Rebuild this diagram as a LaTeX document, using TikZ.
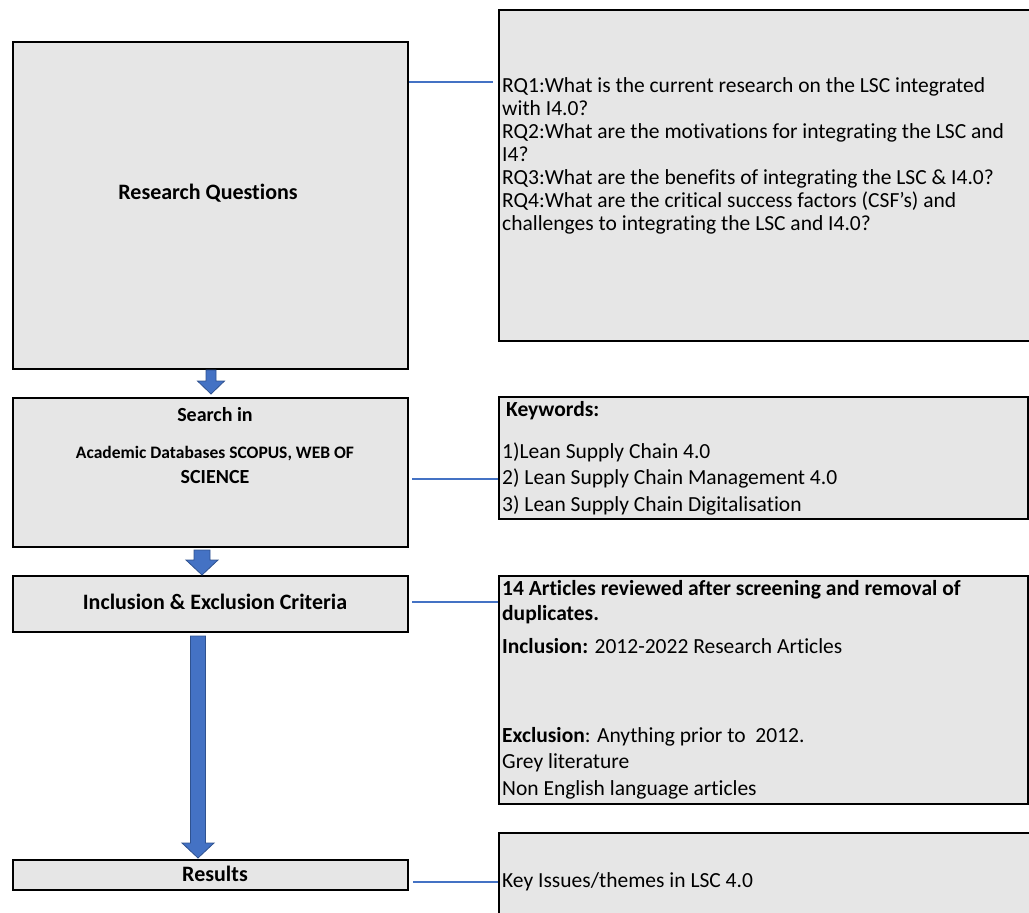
\documentclass[tikz,border=0pt]{standalone}
\usepackage{fontspec}
\setmainfont{Carlito}[Ligatures=NoCommon]
\usepackage{tikz}
\usetikzlibrary{calc,positioning}
\definecolor{boxgray}{RGB}{230,230,230}
\definecolor{linkblue}{RGB}{68,114,196}
\definecolor{edgeblue}{RGB}{47,82,143}
\tikzset{
    stage/.style={rectangle, anchor=north west, inner sep=0pt,
        minimum width=395pt, draw=black, line width=2pt, fill=boxgray},
    note/.style={rectangle, anchor=north west, inner sep=0pt,
        draw=black, line width=1.6pt, fill=boxgray},
    title/.style={inner sep=0pt, text height=0.7em, text depth=0.2em, yshift=-3pt,
        font=\fontsize{22}{26}\selectfont\bfseries},
    item/.style={anchor=west, inner sep=0pt, text height=0.7em, text depth=0.2em,
        yshift=-3pt, font=\fontsize{21.5}{26}\selectfont},
    link/.style={draw=linkblue, line width=2pt},
    flow/.style={fill=linkblue, draw=edgeblue, line width=0.8pt, line join=miter}
}
% block arrow: from, to, x shift, top gap, tip gap, shaft half, head half, head length
\newcommand{\flowarrow}[8]{%
    \filldraw[flow] ($(#1.south)+(#3-#6,#4)$) -- ($(#1.south)+(#3+#6,#4)$)
        -- ($(#2.north)+(#3+#6,-#5-#8)$) -- ($(#2.north)+(#3+#7,-#5-#8)$)
        -- ($(#2.north)+(#3,-#5)$)
        -- ($(#2.north)+(#3-#7,-#5-#8)$) -- ($(#2.north)+(#3-#6,-#5-#8)$) -- cycle;}

\begin{document}
\begin{tikzpicture}[x=1pt, y=-1pt]
    \useasboundingbox (0,0) rectangle (1029,913);
    \clip (0,0) rectangle (1029,913);
    % left column
    \node[stage, minimum height=327pt] (rq) at (12,41) {};
    \node[stage, minimum height=149pt] (search) at (12,397) {};
    \node[stage, minimum height=56pt] (incl) at (12,575) {};
    \node[stage, minimum height=30pt] (res) at (12,859) {};
    \node[title] (rqtitle) at (208,194) {Research Questions};
    \node[title, font=\fontsize{20}{24}\selectfont\bfseries] (searchtitle) at (215,416) {Search in};
    \node[title, font=\fontsize{17.5}{21}\selectfont\bfseries] (dbtitle) at (215,453) {Academic Databases SCOPUS, WEB OF};
    \node[title, font=\fontsize{20}{24}\selectfont\bfseries] (sciencetitle) at (215,478) {SCIENCE};
    \node[title] (incltitle) at (215,604) {Inclusion \& Exclusion Criteria};
    \node[title] (restitle) at (215,876) {Results};

    % right column
    \node[note, minimum width=560pt, minimum height=331pt] (rqnote) at (498,9) {};
    \node[note, minimum width=529pt, minimum height=122pt] (kwnote) at (498,396) {};
    \node[note, minimum width=529pt, minimum height=228pt] (artnote) at (498,575) {};
    \node[note, minimum width=560pt, minimum height=120pt] (resnote) at (498,832) {};

    \foreach \y/\t [count=\i] in {
        87/{RQ1:What is the current research on the LSC integrated},
        110/{with I4.0?},
        133/{RQ2:What are the motivations for integrating the LSC and},
        156/{I4?},
        179/{RQ3:What are the benefits of integrating the LSC \& I4.0?},
        202/{RQ4:What are the critical success factors (CSF’s) and},
        225/{challenges to integrating the LSC and I4.0?}}
        \node[item] (rq\i) at (502,\y) {\t};

    \node[item] (kw0) at (506,411) {\textbf{Keywords:}};
    \foreach \y/\t [count=\i] in {
        453/{1)Lean Supply Chain 4.0},
        479/{2) Lean Supply Chain Management 4.0},
        506/{3) Lean Supply Chain Digitalisation}}
        \node[item] (kw\i) at (502,\y) {\t};

    \foreach \y/\t [count=\i] in {
        590/{\textbf{14 Articles reviewed after screening and removal of}},
        615/{\textbf{duplicates.}},
        648/{\textbf{Inclusion:} 2012-2022 Research Articles},
        737/{\textbf{Exclusion}: Anything prior to~ 2012.},
        763/{Grey literature},
        790/{Non English language articles}}
        \node[item] (art\i) at (502,\y) {\t};

    \node[item] (key1) at (502,882) {Key Issues/themes in LSC 4.0};

    % links
    \coordinate (rqlink) at (0,82);
    \coordinate (searchlink) at (0,479);
    \coordinate (incllink) at (0,602);
    \coordinate (reslink) at (0,882);
    \draw[link, shorten >=5pt] (rq.east |- rqlink) -- (rqnote.west |- rqlink);
    \draw[link, shorten <=3pt] (search.east |- searchlink) -- (kwnote.west |- searchlink);
    \draw[link, shorten <=3pt] (incl.east |- incllink) -- (artnote.west |- incllink);
    \draw[link, shorten <=4pt] (res.east |- reslink) -- (resnote.west |- reslink);

    % arrows
    \flowarrow{rq}{search}{0.5}{0}{3}{5}{13.5}{13}
    \flowarrow{search}{incl}{-8.5}{2}{0}{8}{16}{15}
    \flowarrow{incl}{res}{-12.5}{3}{1}{7.5}{16}{15}
\end{tikzpicture}
\end{document}
